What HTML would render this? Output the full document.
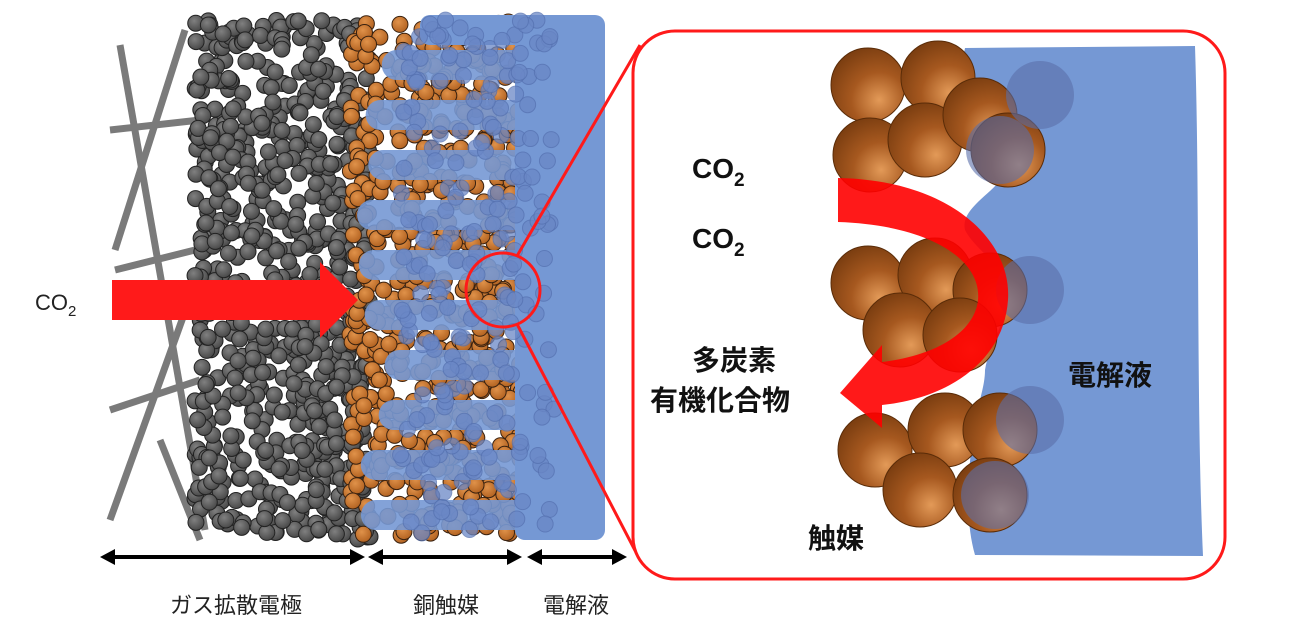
<!DOCTYPE html>
<html><head><meta charset="utf-8">
<style>
html,body{margin:0;padding:0;background:#fff;}
svg{display:block;}
text{font-family:"Liberation Sans","Noto Sans CJK JP",sans-serif;}
</style></head>
<body>
<svg id="s" width="1300" height="628" viewBox="0 0 1300 628" xmlns="http://www.w3.org/2000/svg">
<defs>
<radialGradient id="gd" cx="0.4" cy="0.35" r="0.7"><stop offset="0" stop-color="#808080"/><stop offset="1" stop-color="#454545"/></radialGradient>
<radialGradient id="gc" cx="0.4" cy="0.35" r="0.7"><stop offset="0" stop-color="#e0924a"/><stop offset="1" stop-color="#b0601f"/></radialGradient>
<radialGradient id="gb" cx="0.65" cy="0.7" r="0.75"><stop offset="0" stop-color="#e39a58"/><stop offset="0.5" stop-color="#a6581f"/><stop offset="1" stop-color="#7a3d10"/></radialGradient>
</defs>
<g id="fib" stroke="#7a7a7a" stroke-width="7" fill="none"></g>
<g id="dark"></g>
<g id="cu"></g>
<g id="blue"></g>
<g id="bsph"></g>
<text x="35" y="310" font-size="22" fill="#222">CO<tspan font-size="15" dy="6">2</tspan></text>
<polygon points="112,280 320,280 320,262 358,300 320,338 320,320 112,320" fill="#ff1a1a"/>
<circle cx="503" cy="290" r="37" fill="none" stroke="#ff1a1a" stroke-width="3"/>
<line x1="517" y1="256" x2="640" y2="45" stroke="#ff1a1a" stroke-width="3"/>
<line x1="517" y1="324" x2="640" y2="560" stroke="#ff1a1a" stroke-width="3"/>
<g stroke="#000" stroke-width="4" fill="#000">
<line x1="110" y1="557" x2="355" y2="557"/>
<line x1="378" y1="557" x2="512" y2="557"/>
<line x1="537" y1="557" x2="617" y2="557"/>
</g>
<g fill="#000">
<polygon points="100,557 115,549 115,565"/><polygon points="365,557 350,549 350,565"/>
<polygon points="368,557 383,549 383,565"/><polygon points="522,557 507,549 507,565"/>
<polygon points="527,557 542,549 542,565"/><polygon points="627,557 612,549 612,565"/>
</g>
<g font-size="22" fill="#222" text-anchor="middle">
<text x="236" y="613">ガス拡散電極</text>
<text x="446" y="613">銅触媒</text>
<text x="576" y="613">電解液</text>
</g>
<rect x="633" y="31" width="592" height="548" rx="42" fill="#fff" stroke="#ff1a1a" stroke-width="3"/>
<path d="M965,48 L1195,46 C1200,200 1196,400 1203,556 L975,555 C965,520 968,480 972,440 C975,410 985,390 985,370 C990,340 1010,320 1005,290 C1000,260 975,250 965,230 C960,210 990,195 1000,180 C1005,160 990,140 975,120 C965,100 960,70 965,48 Z" fill="#7598d4"/>
<g id="big"></g>
<path d="M838,178 C950,180 1012,240 1008,300 C1004,360 950,398 882,405 L882,428 L840,393 L882,345 L882,362 C940,355 975,330 978,300 C982,260 930,225 838,222 Z" fill="#ff0000" fill-opacity="0.9"/>
<g font-size="28" font-weight="bold" fill="#111">
<text x="692" y="178">CO<tspan font-size="19" dy="8">2</tspan></text>
<text x="692" y="248">CO<tspan font-size="19" dy="8">2</tspan></text>
<text x="692" y="370">多炭素</text>
<text x="650" y="410">有機化合物</text>
<text x="1068" y="385">電解液</text>
<text x="808" y="548">触媒</text>
</g>
</svg>
<script>
var NS="http://www.w3.org/2000/svg";
var seed=7;function r(){seed=(seed*16807)%2147483647;return seed/2147483647;}
function c(g,x,y,rad,fill,stroke,op){var e=document.createElementNS(NS,"circle");e.setAttribute("cx",x);e.setAttribute("cy",y);e.setAttribute("r",rad);e.setAttribute("fill",fill);if(stroke){e.setAttribute("stroke",stroke);e.setAttribute("stroke-width",1);}if(op)e.setAttribute("opacity",op);document.getElementById(g).appendChild(e);}
var fib=document.getElementById("fib");
[[120,45,205,530],[185,30,115,250],[110,130,200,120],[115,270,195,250],[200,270,110,520],[110,410,200,380],[160,440,200,540]].forEach(function(l){var e=document.createElementNS(NS,"line");e.setAttribute("x1",l[0]);e.setAttribute("y1",l[1]);e.setAttribute("x2",l[2]);e.setAttribute("y2",l[3]);fib.appendChild(e);});
for(var i=0;i<800;i++){var x=195+r()*175,y=20+r()*520;c("dark",x,y,8,"url(#gd)","#222");}
for(var i=0;i<600;i++){var x=350+r()*172,y=22+r()*515;c("cu",x,y,8,"url(#gc)","#3a2210");}
var b=document.getElementById("blue");
function rect(x,y,w,h,rx,op){var f=document.createElementNS(NS,"rect");f.setAttribute("x",x);f.setAttribute("y",y);f.setAttribute("width",w);f.setAttribute("height",h);f.setAttribute("rx",rx);f.setAttribute("fill","#7598d4");if(op)f.setAttribute("opacity",op);b.appendChild(f);}
rect(515,15,90,525,10);
rect(420,15,120,30,10);
for(var y=65;y<530;y+=50){var lx=355+r()*35;rect(lx,y-15,530-lx,30,15,0.9);}
for(var i=0;i<220;i++){var x=400+r()*155,y=20+r()*515;c("bsph",x,y,8,"#6a87c6","#5571b0","0.75");}
var cu=[[868,85],[938,78],[870,155],[925,140],[980,115],[1008,150],[868,283],[935,275],[990,290],[900,330],[960,335],[875,450],[945,430],[1000,430],[920,490],[990,495]];
cu.forEach(function(p){c("big",p[0],p[1],37,"url(#gb)","#5a2c08");});
[[1040,95],[1000,150],[1030,290],[1030,420],[995,495]].forEach(function(p){c("big",p[0],p[1],34,"#5a6ea8",null,"0.6");});
</script>
</body></html>
